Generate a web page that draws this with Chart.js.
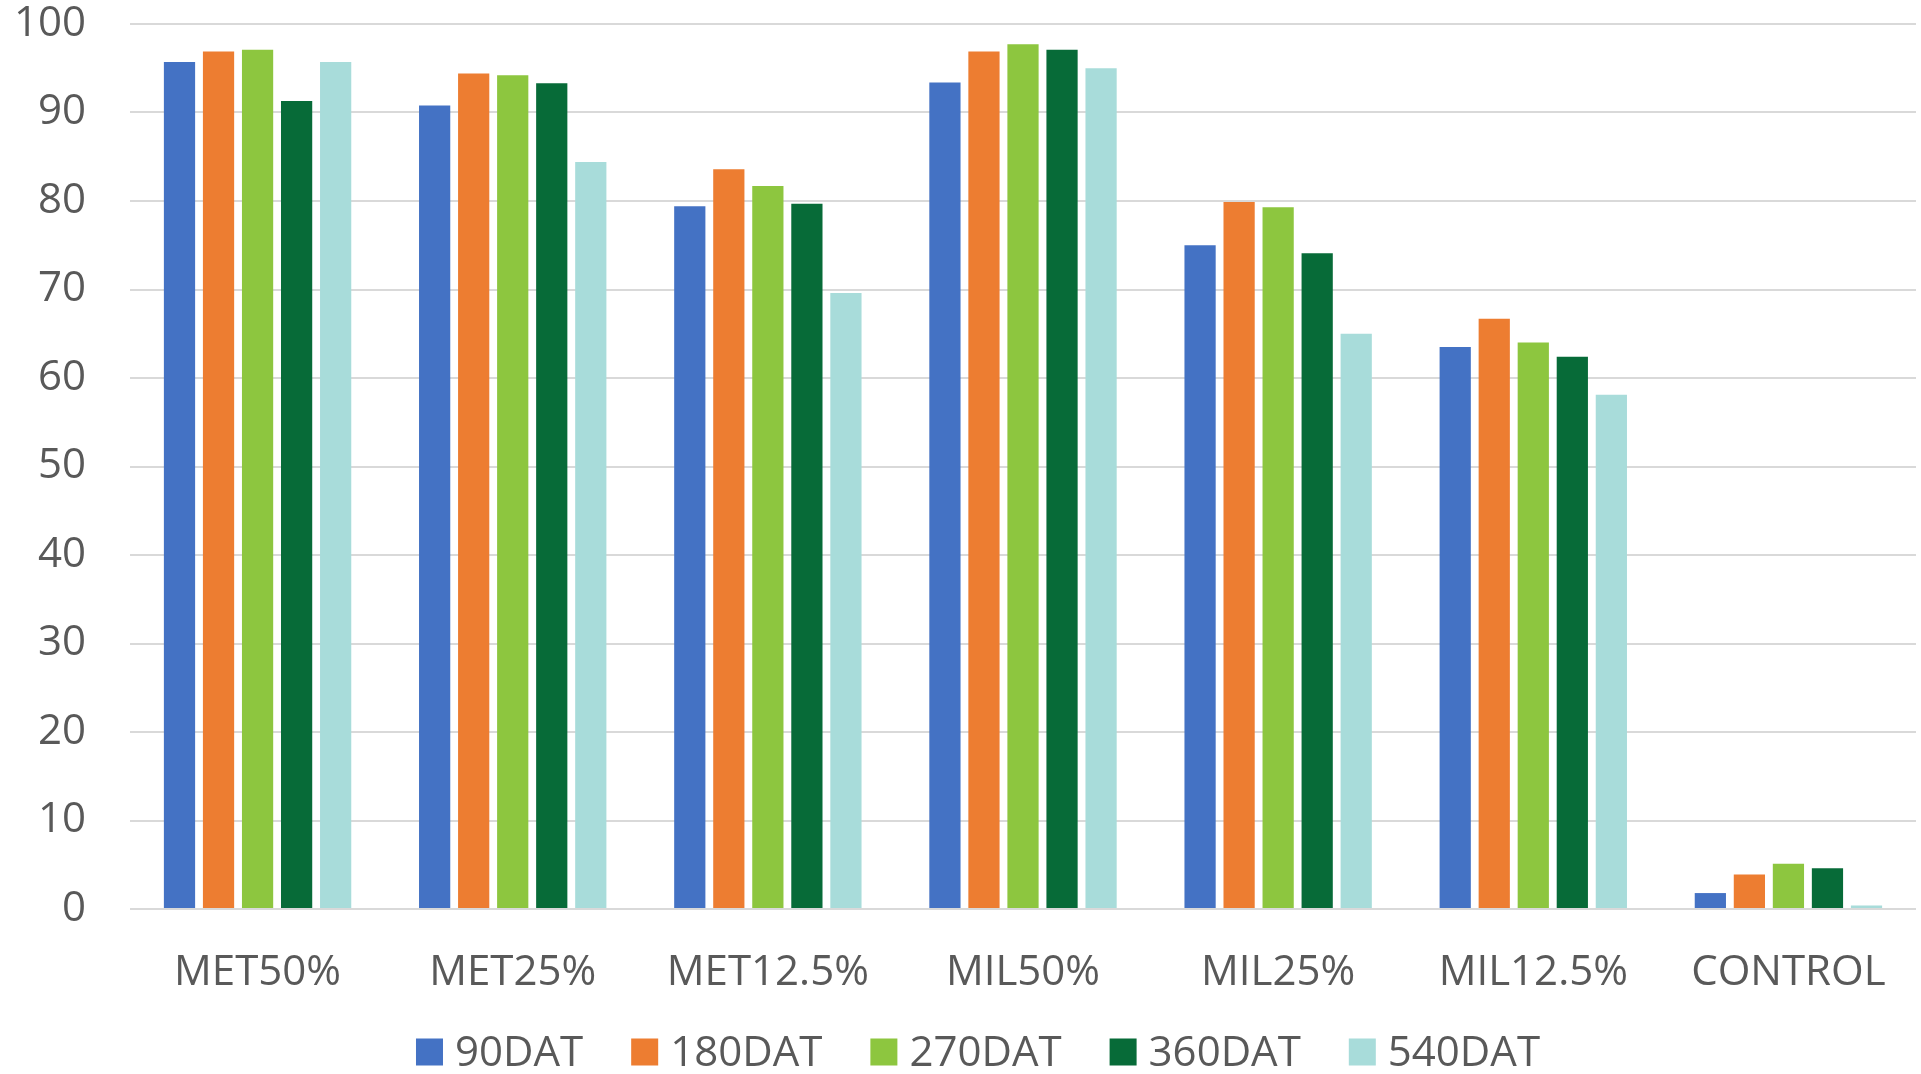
<!DOCTYPE html>
<html>
<head>
<meta charset="utf-8">
<script src="https://cdn.jsdelivr.net/npm/chart.js@4/dist/chart.umd.min.js"></script>
<style>
  html, body { margin: 0; padding: 0; background: #ffffff; }
  #wrap { width: 1921px; height: 1074px; position: relative; }
</style>
</head>
<body>
<div id="wrap"><canvas id="chart"></canvas></div>
<script>
// Treatments on the category axis
const categories = ['MET50%', 'MET25%', 'MET12.5%', 'MIL50%', 'MIL25%', 'MIL12.5%', 'CONTROL'];

// Series: days after treatment
const seriesNames = ['90DAT', '180DAT', '270DAT', '360DAT', '540DAT'];
const values90  = [95.7, 90.8, 79.4, 93.4, 75.0, 63.5, 1.8];
const values180 = [96.9, 94.4, 83.6, 96.9, 79.9, 66.7, 3.9];
const values270 = [97.1, 94.2, 81.7, 97.7, 79.3, 64.0, 5.1];
const values360 = [91.3, 93.3, 79.7, 97.1, 74.1, 62.4, 4.6];
const values540 = [95.7, 84.4, 69.6, 95.0, 65.0, 58.1, 0.4];

// Value axis ticks
const yTicks = [0, 10, 20, 30, 40, 50, 60, 70, 80, 90, 100];

const seriesValues = [values90, values180, values270, values360, values540];
const seriesColors = ['#4472C4', '#ED7D31', '#8DC63F', '#076B38', '#A8DCDA'];

const FONT = "'Open Sans', 'Noto Sans', sans-serif";
const TEXT = '#595959';
const FONT_SIZE = 42;

// Single-row legend under the axis: square swatch, tight gap, then label
const bottomLegend = {
  id: 'bottomLegend',
  afterDraw(chart) {
    const ctx = chart.ctx;
    const box = 27, gapText = 12, gapItem = 48;
    const cy = 1052;
    ctx.save();
    ctx.font = `${FONT_SIZE}px ${FONT}`;
    ctx.textBaseline = 'middle';
    ctx.textAlign = 'left';
    const items = chart.data.datasets.map(ds => ({
      text: ds.label, color: ds.backgroundColor, w: ctx.measureText(ds.label).width
    }));
    const total = items.reduce((s, it) => s + box + gapText + it.w, 0) + gapItem * (items.length - 1);
    let x = 978 - total / 2;
    items.forEach(it => {
      ctx.fillStyle = it.color;
      ctx.fillRect(x, cy - box / 2, box, box);
      x += box + gapText;
      ctx.fillStyle = TEXT;
      ctx.fillText(it.text, x, cy + 2);
      x += it.w + gapItem;
    });
    ctx.restore();
  }
};

new Chart(document.getElementById('chart'), {
  type: 'bar',
  data: {
    labels: categories,
    datasets: seriesNames.map((name, i) => ({
      label: name,
      data: seriesValues[i],
      backgroundColor: seriesColors[i],
      borderWidth: 0,
      categoryPercentage: 0.765,
      barPercentage: 0.8
    }))
  },
  options: {
    responsive: true,
    maintainAspectRatio: false,
    animation: false,
    layout: { padding: { top: 24, right: 5, left: 0, bottom: 0 } },
    plugins: {
      tooltip: { enabled: false },
      legend: { display: false }
    },
    scales: {
      x: {
        grid: { display: false, drawTicks: false },
        border: { display: false },
        ticks: {
          color: TEXT,
          padding: 39,
          maxRotation: 0,
          font: { family: FONT, size: FONT_SIZE }
        },
        afterFit(scale) {
          scale.height = 165;
          scale.paddingLeft = 0;
          scale.paddingRight = 0;
        }
      },
      y: {
        min: 0,
        max: 100,
        afterBuildTicks(scale) { scale.ticks = yTicks.map(v => ({ value: v })); },
        grid: { color: '#D9D9D9', lineWidth: 2, drawTicks: false },
        border: { display: false },
        ticks: {
          color: TEXT,
          padding: 44,
          font: { family: FONT, size: FONT_SIZE }
        },
        afterFit(scale) {
          scale.width = 130;
          scale.paddingTop = 0;
          scale.paddingBottom = 0;
        }
      }
    }
  },
  plugins: [bottomLegend]
});
</script>
</body>
</html>
